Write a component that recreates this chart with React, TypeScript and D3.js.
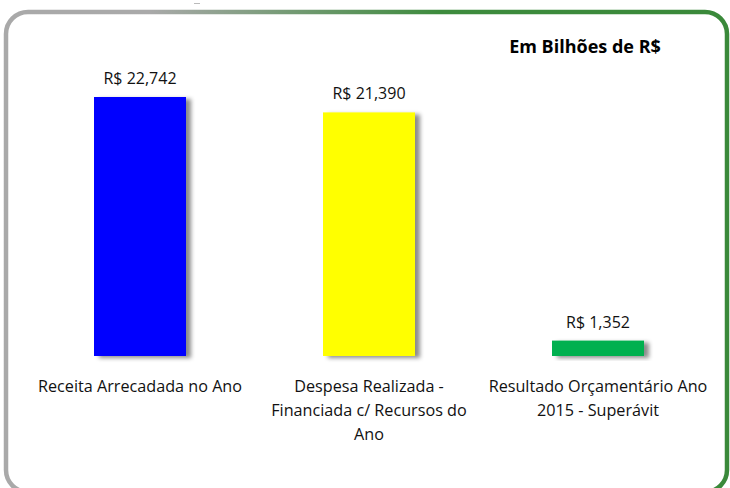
import React from "react";
import * as d3 from "d3";

const categories: string[][] = [
  ["Receita Arrecadada no Ano"],
  ["Despesa Realizada -", "Financiada c/ Recursos do", "Ano"],
  ["Resultado Orçamentário Ano", "2015 - Superávit"],
];
const values: number[] = [22.742, 21.39, 1.352];
const valueLabels: string[] = ["R$ 22,742", "R$ 21,390", "R$ 1,352"];
const colors: string[] = ["#0000FF", "#FFFF00", "#00B050"];
const title = "Em Bilhões de R$";

const W = 730;
const H = 488;
const FONT = "'Open Sans', 'Noto Sans', sans-serif";

export default function App() {
  const x = d3
    .scalePoint<number>()
    .domain(values.map((_, i) => i))
    .range([140, 598]);
  const bw = 92;
  const y = d3.scaleLinear().domain([0, 22.742]).range([356, 97]);

  return (
    <svg
      width={W}
      height={H}
      style={{ position: "absolute", left: 0, top: 0, background: "#fff" }}
      fontFamily={FONT}
    >
      <defs>
        <linearGradient id="border" x1="0" y1="0" x2="1" y2="0">
          <stop offset="0" stopColor="#a9a9a9" />
          <stop offset="0.2" stopColor="#a9a9a9" />
          <stop offset="0.6" stopColor="#3d8b3d" />
          <stop offset="1" stopColor="#3a893a" />
        </linearGradient>
        <filter id="shadow" x="-20%" y="-20%" width="150%" height="150%">
          <feDropShadow dx="5" dy="2" stdDeviation="2" floodColor="#000" floodOpacity="0.45" />
        </filter>
      </defs>
      <rect x={6} y={12} width={721} height={480} rx={22} ry={22} fill="none" stroke="url(#border)" strokeWidth={4.5} />
      <line x1={194} x2={200} y1={3.5} y2={3.5} stroke="#bbb" strokeWidth={1} />
      <text x={585} y={53} textAnchor="middle" fontWeight="bold" fontSize={18} fill="#000">
        {title}
      </text>
      {values.map((v, i) => (
        <g key={i}>
          <rect
            x={(x(i) as number) - bw / 2}
            y={y(v)}
            width={bw}
            height={y(0) - y(v)}
            fill={colors[i]}
            filter="url(#shadow)"
          />
          <text x={x(i)} y={y(v) - 13} textAnchor="middle" fontSize={16} fill="#111">
            {valueLabels[i]}
          </text>
          {categories[i].map((line, j) => (
            <text key={j} x={x(i)} y={392 + j * 24} textAnchor="middle" fontSize={16.2} fill="#111">
              {line}
            </text>
          ))}
        </g>
      ))}
    </svg>
  );
}
